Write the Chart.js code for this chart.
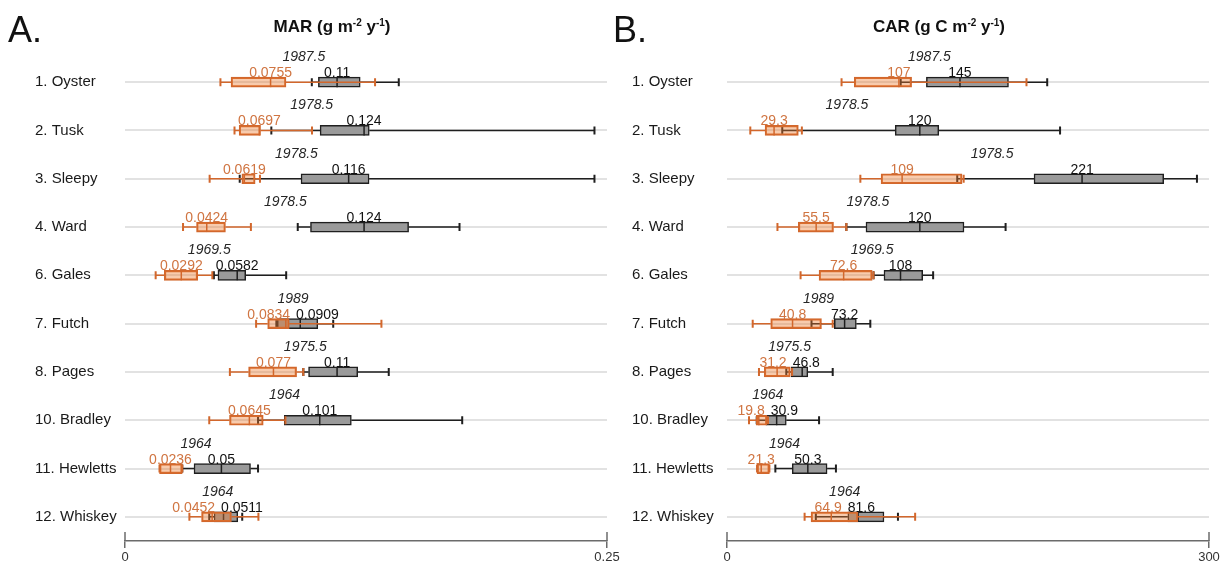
<!DOCTYPE html>
<html>
<head>
<meta charset="utf-8">
<title>MAR / CAR</title>
<script src="https://cdn.jsdelivr.net/npm/chart.js@4.4.1/dist/chart.umd.min.js"></script>
<style>
  body { margin: 0; background: #fff; }
  #wrap { position: relative; width: 1225px; height: 567px; overflow: hidden; }
  canvas { position: absolute; top: 0; }
  #marChart { left: 0; }
  #carChart { left: 612px; }
</style>
</head>
<body>
<div id="wrap">
  <canvas id="marChart" width="640" height="567"></canvas>
  <canvas id="carChart" width="613" height="567"></canvas>
</div>
<script>
// sites, top to bottom
const sites = ['1. Oyster', '2. Tusk', '3. Sleepy', '4. Ward', '6. Gales', '7. Futch',
               '8. Pages', '10. Bradley', '11. Hewletts', '12. Whiskey'];
const years = ['1987.5', '1978.5', '1978.5', '1978.5', '1969.5', '1989', '1975.5', '1964', '1964', '1964'];

// each row: [min, q1, median, q3, max]
const marPre = [
  [0.0495, 0.0550, 0.0755, 0.0835, 0.1297],
  [0.0568, 0.0592, 0.0697, 0.0703, 0.0970],
  [0.0439, 0.0606, 0.0619, 0.0675, 0.0700],
  [0.0301, 0.0371, 0.0424, 0.0521, 0.0653],
  [0.0159, 0.0204, 0.0292, 0.0377, 0.0453],
  [0.0680, 0.0740, 0.0834, 0.0852, 0.1330],
  [0.0544, 0.0641, 0.0770, 0.0890, 0.0925],
  [0.0437, 0.0542, 0.0645, 0.0717, 0.0832],
  [0.0179, 0.0179, 0.0236, 0.0297, 0.0297],
  [0.0334, 0.0397, 0.0452, 0.0552, 0.0692]
];
const marPost = [
  [0.0969, 0.1003, 0.1100, 0.1220, 0.1420],
  [0.0759, 0.1012, 0.1240, 0.1267, 0.2435],
  [0.0595, 0.0913, 0.1160, 0.1266, 0.2435],
  [0.0896, 0.0962, 0.1240, 0.1471, 0.1735],
  [0.0461, 0.0482, 0.0582, 0.0626, 0.0836],
  [0.0785, 0.0790, 0.0909, 0.1000, 0.1080],
  [0.0925, 0.0952, 0.1100, 0.1207, 0.1368],
  [0.0690, 0.0826, 0.1010, 0.1174, 0.1749],
  [0.0297, 0.0358, 0.0500, 0.0651, 0.0690],
  [0.0437, 0.0462, 0.0511, 0.0585, 0.0608]
];
const carPre = [
  [71.3, 79.2, 107, 114.9, 186.4],
  [14.5, 23.7, 29.3, 44.4, 46.6],
  [83.0, 95.9, 109, 146.3, 147.3],
  [31.4, 44.4, 55.5, 66.3, 74.3],
  [45.8, 57.3, 72.6, 90.4, 91.2],
  [16.0, 27.2, 40.8, 58.8, 65.8],
  [19.9, 23.2, 31.2, 39.4, 40.5],
  [13.7, 18.2, 19.8, 24.9, 25.5],
  [18.7, 18.7, 21.3, 26.4, 26.4],
  [48.3, 52.3, 64.9, 81.5, 117.1]
];
const carPost = [
  [108.1, 124.1, 145, 175.2, 199.3],
  [34.4, 104.7, 120, 131.8, 207.3],
  [143.3, 191.1, 221, 271.8, 292.5],
  [74.3, 86.5, 120, 147.5, 173.4],
  [91.2, 97.7, 108, 121.8, 128.3],
  [52.6, 66.8, 73.2, 80.5, 89.2],
  [36.9, 39.9, 46.8, 50.3, 65.8],
  [18.5, 24.2, 30.9, 36.9, 57.3],
  [30.1, 40.6, 50.3, 62.3, 67.8],
  [55.3, 75.2, 81.6, 97.7, 106.4]
];
const marTicks = [0, 0.25];
const carTicks = [0, 300];

const FONT = '"Liberation Sans", Arial, sans-serif';
const BOX_H = 10;
const AXIS = '#6b6b6b';

// black = later period, orange = earlier period (drawn on top)
const styles = [
  { line: '#1f1f1f', fill: '#9a9a9a', text: '#111111' },
  { line: '#d2672c', fill: 'rgba(237,125,49,0.4)', text: '#d07542' }
];

function drawTitle(ctx, parts, cx, y) {
  let w = 0;
  parts.forEach(p => {
    ctx.font = p[1] ? 'bold 10px ' + FONT : 'bold 17px ' + FONT;
    w += ctx.measureText(p[0]).width;
  });
  let x = cx - w / 2;
  ctx.textAlign = 'left';
  ctx.textBaseline = 'alphabetic';
  parts.forEach(p => {
    ctx.font = p[1] ? 'bold 10px ' + FONT : 'bold 17px ' + FONT;
    ctx.fillText(p[0], x, p[1] ? y - 6 : y);
    x += ctx.measureText(p[0]).width;
  });
}

function makePanel(id, o) {
  const series = [o.post, o.pre];

  const boxParts = {
    id: 'boxParts',
    // whiskers go under this series' boxes
    beforeDatasetDraw(chart, args) {
      const ctx = chart.ctx, xs = chart.scales.x, ys = chart.scales.y;
      const c = styles[args.index];
      ctx.save();
      ctx.strokeStyle = c.line;
      series[args.index].forEach((d, i) => {
        const py = ys.getPixelForValue(i);
        const [mn, q1, , q3, mx] = d.map(v => xs.getPixelForValue(v));
        ctx.lineWidth = 1.5;
        ctx.beginPath();
        ctx.moveTo(mn, py); ctx.lineTo(q1, py);
        ctx.moveTo(q3, py); ctx.lineTo(mx, py);
        ctx.stroke();
        ctx.lineWidth = 2;
        ctx.beginPath();
        ctx.moveTo(mn, py - 4); ctx.lineTo(mn, py + 4);
        ctx.moveTo(mx, py - 4); ctx.lineTo(mx, py + 4);
        ctx.stroke();
      });
      ctx.restore();
    },
    afterDatasetDraw(chart, args) {
      const ctx = chart.ctx, xs = chart.scales.x, ys = chart.scales.y;
      ctx.save();
      ctx.strokeStyle = styles[args.index].line;
      ctx.lineWidth = 1.5;
      series[args.index].forEach((d, i) => {
        const py = ys.getPixelForValue(i);
        const px = xs.getPixelForValue(d[2]);
        ctx.beginPath();
        ctx.moveTo(px, py - BOX_H / 2); ctx.lineTo(px, py + BOX_H / 2);
        ctx.stroke();
      });
      ctx.restore();
    },
    afterDraw(chart) {
      const ctx = chart.ctx, xs = chart.scales.x, ys = chart.scales.y;
      const area = chart.chartArea;
      ctx.save();

      // tick marks poke above the axis line too
      ctx.strokeStyle = AXIS;
      ctx.lineWidth = 1.5;
      o.ticks.forEach(v => {
        const px = xs.getPixelForValue(v);
        ctx.beginPath();
        ctx.moveTo(px, area.bottom - 9); ctx.lineTo(px, area.bottom);
        ctx.stroke();
      });

      // median labels, pushed apart when they collide, and the split year between them
      ctx.textBaseline = 'alphabetic';
      ctx.textAlign = 'center';
      sites.forEach((s, i) => {
        const py = ys.getPixelForValue(i);
        const pre = o.pre[i][2], post = o.post[i][2];
        const pPre = xs.getPixelForValue(pre), pPost = xs.getPixelForValue(post);
        const tPre = String(pre), tPost = String(post);
        ctx.font = '14px ' + FONT;
        const wPre = ctx.measureText(tPre).width, wPost = ctx.measureText(tPost).width;
        let xPre = pPre, xPost = pPost;
        const need = (wPre + wPost) / 2 + 6;
        const gap = Math.abs(pPost - pPre);
        if (gap < need) {
          const shift = (need - gap) / 2;
          const dir = pPost >= pPre ? 1 : -1;
          xPre -= shift * dir;
          xPost += shift * dir;
        }
        ctx.fillStyle = styles[0].text;
        ctx.fillText(tPost, xPost, py - 5);
        ctx.fillStyle = styles[1].text;
        ctx.fillText(tPre, xPre, py - 5);

        ctx.font = 'italic 14px ' + FONT;
        ctx.fillStyle = '#262626';
        ctx.fillText(years[i], (pPre + pPost) / 2, py - 21);
      });

      // panel letter and heading
      ctx.fillStyle = '#111';
      ctx.font = '36px ' + FONT;
      ctx.textAlign = 'left';
      ctx.fillText(o.letter, o.letterX, 42);
      drawTitle(ctx, o.title, o.titleX, 32);
      ctx.restore();
    }
  };

  return new Chart(document.getElementById(id), {
    type: 'bar',
    data: {
      labels: sites,
      datasets: series.map((s, k) => ({
        data: s.map(d => [d[1], d[3]]),
        backgroundColor: styles[k].fill,
        borderColor: styles[k].line,
        borderWidth: 1.5,
        borderSkipped: false,
        barThickness: BOX_H,
        grouped: false,
        order: 2 - k
      }))
    },
    options: {
      indexAxis: 'y',
      responsive: false,
      animation: false,
      events: [],
      layout: { padding: { left: o.padLeft, right: o.padRight, top: 58, bottom: 0 } },
      plugins: { legend: { display: false }, tooltip: { enabled: false } },
      scales: {
        x: {
          min: o.ticks[0],
          max: o.ticks[1],
          afterBuildTicks: sc => { sc.ticks = o.ticks.map(v => ({ value: v })); },
          afterFit: sc => { sc.height = 26; },
          grid: { drawOnChartArea: false, color: AXIS, lineWidth: 1.5, tickLength: 7 },
          border: { color: AXIS, width: 1.5 },
          ticks: {
            font: { family: FONT, size: 13 },
            color: '#333333',
            padding: 2,
            maxRotation: 0,
            callback: v => String(v)
          }
        },
        y: {
          afterFit: sc => { sc.width = o.axisWidth; },
          grid: { offset: false, color: '#e2e2e2', lineWidth: 2, drawTicks: false },
          border: { display: false },
          ticks: { crossAlign: 'far', font: { family: FONT, size: 15 }, color: '#1a1a1a', padding: 0 }
        }
      }
    },
    plugins: [boxParts]
  });
}

makePanel('marChart', {
  pre: marPre, post: marPost, ticks: marTicks,
  letter: 'A.', letterX: 8,
  title: [['MAR (g m', false], ['-2', true], [' y', false], ['-1', true], [')', false]],
  titleX: 332,
  padLeft: 35, axisWidth: 90, padRight: 33
});

makePanel('carChart', {
  pre: carPre, post: carPost, ticks: carTicks,
  letter: 'B.', letterX: 1,
  title: [['CAR (g C m', false], ['-2', true], [' y', false], ['-1', true], [')', false]],
  titleX: 327,
  padLeft: 20, axisWidth: 95, padRight: 16
});
</script>
</body>
</html>
